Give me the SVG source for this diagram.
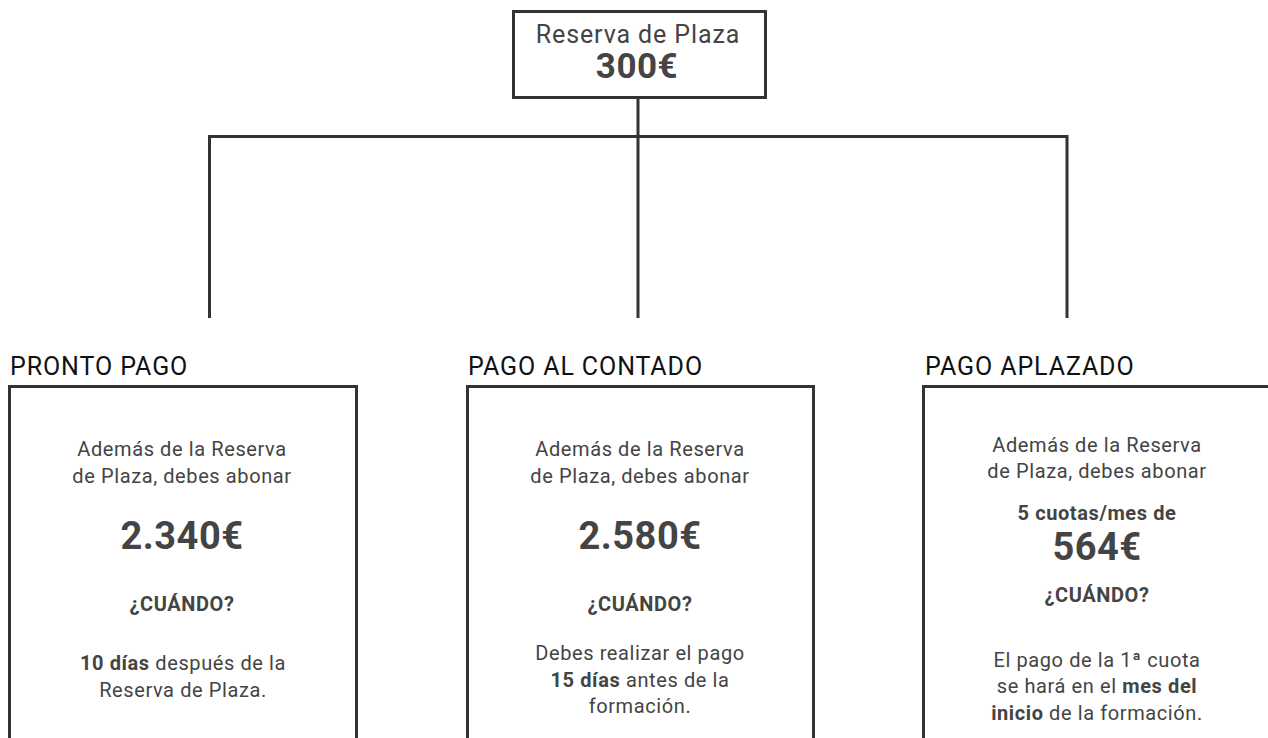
<svg xmlns="http://www.w3.org/2000/svg" width="1268" height="738" viewBox="0 0 1268 738">
<style>
text{font-family:Roboto,"Liberation Sans",sans-serif;text-anchor:middle;fill:#444}
.box{fill:none;stroke:#333;stroke-width:3}
.con{fill:none;stroke:#333;stroke-width:3}
.ttl{text-anchor:start;fill:#111;font-size:25px;letter-spacing:0.9px}
.body{font-size:20px;letter-spacing:0.6px}
.b{font-weight:bold}
.big{font-size:38px;font-weight:bold;letter-spacing:0.5px}
.q{font-size:20px;font-weight:bold;letter-spacing:0.6px}
</style>
<rect width="1268" height="738" fill="#fff"/>
<g id="connectors">
<path class="con" d="M638 97V136.5M209.5 136.5H1067M209.5 135V318M638 135V318M1067 135V318"/>
</g>
<g id="reserva">
<rect class="box" x="513.5" y="11.5" width="252" height="86"/>
<text x="638" y="43" style="font-size:25px;letter-spacing:0.9px">Reserva de Plaza</text>
<text x="637" y="78" style="font-size:35px;font-weight:bold;letter-spacing:0.5px">300€</text>
</g>
<g id="pronto">
<text class="ttl" x="10" y="375">PRONTO PAGO</text>
<rect class="box" x="9.5" y="386.5" width="347" height="400"/>
<text class="body" x="182" y="456">Además de la Reserva</text>
<text class="body" x="182" y="483">de Plaza, debes abonar</text>
<text class="big" x="182" y="549">2.340€</text>
<text class="q" x="182" y="611">¿CUÁNDO?</text>
<text class="body" x="183" y="670"><tspan class="b">10 días</tspan> después de la</text>
<text class="body" x="183" y="697">Reserva de Plaza.</text>
</g>
<g id="contado">
<text class="ttl" x="468" y="375">PAGO AL CONTADO</text>
<rect class="box" x="467.5" y="386.5" width="346" height="400"/>
<text class="body" x="640" y="456">Además de la Reserva</text>
<text class="body" x="640" y="483">de Plaza, debes abonar</text>
<text class="big" x="640" y="549">2.580€</text>
<text class="q" x="640" y="611">¿CUÁNDO?</text>
<text class="body" x="640" y="660">Debes realizar el pago</text>
<text class="body" x="640" y="687"><tspan class="b">15 días</tspan> antes de la</text>
<text class="body" x="640" y="713">formación.</text>
</g>
<g id="aplazado">
<text class="ttl" x="925" y="375">PAGO APLAZADO</text>
<rect class="box" x="923.5" y="386.5" width="360" height="400"/>
<text class="body" x="1097" y="452">Además de la Reserva</text>
<text class="body" x="1097" y="478">de Plaza, debes abonar</text>
<text class="q" x="1097" y="520">5 cuotas/mes de</text>
<text class="big" x="1097" y="560">564€</text>
<text class="q" x="1097" y="602">¿CUÁNDO?</text>
<text class="body" x="1097" y="667">El pago de la 1ª cuota</text>
<text class="body" x="1097" y="693">se hará en el <tspan class="b">mes del</tspan></text>
<text class="body" x="1097" y="720"><tspan class="b">inicio</tspan> de la formación.</text>
</g>
</svg>
